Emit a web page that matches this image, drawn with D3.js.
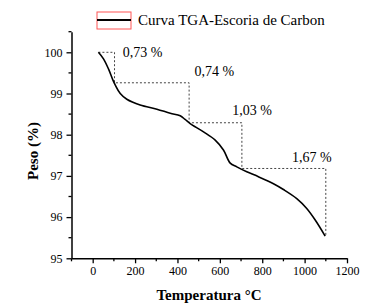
<!DOCTYPE html>
<html>
<head>
<meta charset="utf-8">
<script src="https://cdn.jsdelivr.net/npm/d3@7"></script>
<style>
  body { margin: 0; background: #fff; }
  text { font-family: "Liberation Serif", "Times New Roman", serif; fill: #000; }
</style>
</head>
<body>
<div class="chart"></div>
<script>
// TGA curve: temperature (°C) and weight (%)
const temp = [27, 51, 75, 95, 106, 130, 161, 224, 303, 366, 413, 436, 460, 523, 578, 617, 649, 680, 727, 782, 853, 900, 963, 1010, 1050, 1097];
const peso = [100, 99.84, 99.59, 99.33, 99.21, 99.0, 98.86, 98.72, 98.62, 98.52, 98.46, 98.37, 98.27, 98.07, 97.87, 97.63, 97.31, 97.22, 97.1, 96.98, 96.81, 96.67, 96.45, 96.21, 95.93, 95.54];

// dotted step guides
const stepTemp = [27, 103, 103, 455, 455, 704, 704, 1100, 1100];
const stepPeso = [100, 100, 99.26, 99.26, 98.29, 98.29, 97.18, 97.18, 95.54];

// mass loss labels
const lossText = ["0,73 %", "0,74 %", "1,03 %", "1,67 %"];
const lossTemp = [142, 480, 659, 940];
const lossPeso = [99.89, 99.42, 98.48, 97.34];

const xTicks = [0, 200, 400, 600, 800, 1000, 1200];
const yTicks = [95, 96, 97, 98, 99, 100];

const width = 371, height = 305;

const svg = d3.select(".chart").append("svg")
  .attr("width", width)
  .attr("height", height);

const x = d3.scaleLinear().domain([-100, 1200]).range([71.5, 347]);
const y = d3.scaleLinear().domain([95, 100.5]).range([258.3, 31.7]);

// x axis
const xAxis = svg.append("g").attr("transform", `translate(0,${y(95)})`);
xAxis.call(d3.axisBottom(x).tickValues(xTicks).tickFormat(d3.format("d"))
  .tickSize(5).tickPadding(3).tickSizeOuter(0));
xAxis.append("g").selectAll("line")
  .data(d3.range(-100, 1200, 200))
  .join("line")
  .attr("x1", (d) => x(d)).attr("x2", (d) => x(d))
  .attr("y1", 0).attr("y2", 3)
  .attr("stroke", "#000").attr("stroke-width", 1.3);

// y axis
const yAxis = svg.append("g").attr("transform", `translate(${x(-100)},0)`);
yAxis.call(d3.axisLeft(y).tickValues(yTicks).tickFormat(d3.format("d"))
  .tickSize(5).tickPadding(4).tickSizeOuter(0));
yAxis.append("g").selectAll("line")
  .data(d3.range(95.5, 100.6, 1))
  .join("line")
  .attr("y1", (d) => y(d)).attr("y2", (d) => y(d))
  .attr("x1", 0).attr("x2", -3)
  .attr("stroke", "#000").attr("stroke-width", 1.3);

svg.selectAll(".domain").attr("stroke", "#000").attr("stroke-width", 1.5);
svg.selectAll(".tick line").attr("stroke", "#000").attr("stroke-width", 1.3);
svg.selectAll(".tick text")
  .style("font-family", '"Liberation Serif", serif')
  .style("font-size", "12px")
  .attr("fill", "#000");

// axis titles
svg.append("text")
  .attr("x", 209).attr("y", 300)
  .attr("text-anchor", "middle")
  .style("font-size", "15px").style("font-weight", "bold")
  .text("Temperatura °C");

svg.append("text")
  .attr("transform", "translate(37.5,151) rotate(-90)")
  .attr("text-anchor", "middle")
  .style("font-size", "15px").style("font-weight", "bold")
  .text("Peso (%)");

// step guides
const steps = stepTemp.map((t, i) => [t, stepPeso[i]]);
svg.append("path")
  .datum(steps)
  .attr("fill", "none")
  .attr("stroke", "#444")
  .attr("stroke-width", 1)
  .attr("stroke-dasharray", "2,2")
  .attr("d", d3.line().x((d) => x(d[0])).y((d) => y(d[1])));

// curve
const curve = temp.map((t, i) => [t, peso[i]]);
svg.append("path")
  .datum(curve)
  .attr("fill", "none")
  .attr("stroke", "#000")
  .attr("stroke-width", 1.6)
  .attr("d", d3.line().x((d) => x(d[0])).y((d) => y(d[1])).curve(d3.curveCatmullRom.alpha(0.5)));

// loss labels
svg.append("g").selectAll("text")
  .data(lossText)
  .join("text")
  .attr("x", (d, i) => x(lossTemp[i]))
  .attr("y", (d, i) => y(lossPeso[i]))
  .style("font-size", "14px")
  .text((d) => d);

// legend
const legend = svg.append("g");
legend.append("rect")
  .attr("x", 97).attr("y", 12)
  .attr("width", 34).attr("height", 17)
  .attr("fill", "none")
  .attr("stroke", "#f55")
  .attr("stroke-width", 1);
legend.append("line")
  .attr("x1", 97).attr("x2", 131)
  .attr("y1", 20).attr("y2", 20)
  .attr("stroke", "#000").attr("stroke-width", 2);
legend.append("text")
  .attr("x", 138).attr("y", 25)
  .style("font-size", "15px")
  .text("Curva TGA-Escoria de Carbon");
</script>
</body>
</html>
